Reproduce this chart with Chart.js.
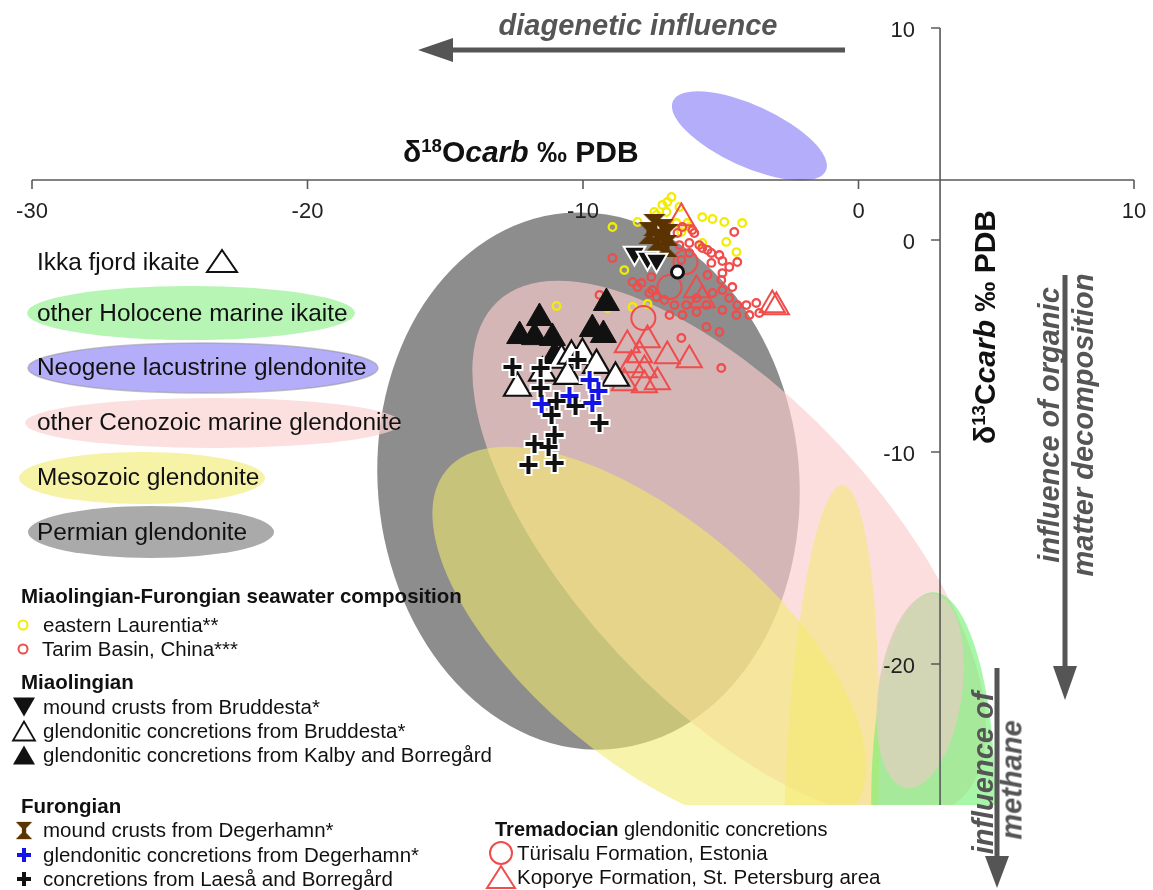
<!DOCTYPE html>
<html>
<head>
<meta charset="utf-8">
<script src="https://cdn.jsdelivr.net/npm/chart.js@4.4.1/dist/chart.umd.min.js"></script>
<style>
body { margin: 0; background: #fff; }
#wrap { position: relative; width: 1153px; height: 890px; overflow: hidden; font-family: "Liberation Sans", Arial, sans-serif; color: #111; }
#wrap canvas { position: absolute; left: 0; top: 0; }
.t { position: absolute; white-space: nowrap; transform: translateY(-50%); line-height: 1; }
.note { font-weight: bold; font-style: italic; color: #555; font-size: 29px; }
.rot { transform: translate(-50%, -50%) rotate(-90deg); }
.big { font-size: 24.4px; }
.sm { font-size: 20.5px; }
.b { font-weight: bold; }
.ttl { font-weight: bold; font-size: 30px; }
.sup { font-size: 0.62em; position: relative; top: -0.55em; }
</style>
</head>
<body>
<div id="wrap">
  <canvas id="c" width="1153" height="890"></canvas>

  <div class="t note" style="left:638px; top:25px; transform:translate(-50%,-50%);">diagenetic influence</div>
  <div class="t ttl" style="left:403px; top:152px;">δ<span class="sup">18</span>O<i>carb</i> ‰ PDB</div>
  <div class="t ttl rot" style="left:985px; top:327px;">δ<span class="sup">13</span>C<i>carb</i> ‰ PDB</div>
  <div class="t note rot" style="left:1049px; top:425px;">influence of organic</div>
  <div class="t note rot" style="left:1083px; top:425px;">matter decomposition</div>
  <div class="t note rot" style="left:983px; top:773px;">influence of</div>
  <div class="t note rot" style="left:1012px; top:780px;">methane</div>

  <div class="t big" style="left:37px; top:262px;">Ikka fjord ikaite</div>
  <div class="t big" style="left:37px; top:313px;">other Holocene marine ikaite</div>
  <div class="t big" style="left:37px; top:367px;">Neogene lacustrine glendonite</div>
  <div class="t big" style="left:37px; top:422px;">other Cenozoic marine glendonite</div>
  <div class="t big" style="left:37px; top:477px;">Mesozoic glendonite</div>
  <div class="t big" style="left:37px; top:532px;">Permian glendonite</div>

  <div class="t sm b" style="left:21px; top:596px;">Miaolingian-Furongian seawater composition</div>
  <div class="t sm" style="left:43px; top:625px;">eastern Laurentia**</div>
  <div class="t sm" style="left:42px; top:649px;">Tarim Basin, China***</div>
  <div class="t sm b" style="left:21px; top:682px;">Miaolingian</div>
  <div class="t sm" style="left:43px; top:707px;">mound crusts from Bruddesta*</div>
  <div class="t sm" style="left:43px; top:731px;">glendonitic concretions from Bruddesta*</div>
  <div class="t sm" style="left:43px; top:755px;">glendonitic concretions from Kalby and Borregård</div>
  <div class="t sm b" style="left:21px; top:806px;">Furongian</div>
  <div class="t sm" style="left:43px; top:830px;">mound crusts from Degerhamn*</div>
  <div class="t sm" style="left:43px; top:855px;">glendonitic concretions from Degerhamn*</div>
  <div class="t sm" style="left:43px; top:879px;">concretions from Laeså and Borregård</div>
  <div class="t sm" style="left:495px; top:829px; font-size:20px;"><b>Tremadocian</b> glendonitic concretions</div>
  <div class="t sm" style="left:517px; top:853px;">Türisalu Formation, Estonia</div>
  <div class="t sm" style="left:517px; top:877px;">Koporye Formation, St. Petersburg area</div>
</div>

<script>
// axis ticks
const xTicks = [-30, -20, -10, 0, 10];
const yTicks = [10, 0, -10, -20];
const xAxisAtY = 2.83;   // the d18O axis crosses d13C here
const yAxisAtX = 2.96;   // the d13C axis crosses d18O here

// envelopes of published fields: [centre x, centre y, half-axis x, half-axis y, tilt deg]
const permianField   = [-9.80, -11.37, 7.65, 12.69, -5];
const neogeneField   = [-3.96, 4.91, 3.05, 1.45, 24.5];
const cenozoicField  = [-4.69, -14.62, 12.33, 7.17, 47];
const mesozoicField  = [-7.59, -18.87, 9.61, 5.66, 40];
const mesozoicField2 = [-0.99, -26.89, 1.70, 15.33, 2];
const holoceneField  = [2.71, -26.42, 2.25, 9.81, 0];
const permianField2  = [2.24, -21.27, 1.52, 4.62, 8];

// Miaolingian-Furongian seawater
const laurentia = [[-6.79,2.03],[-7.12,1.65],[-6.50,1.56],[-6.97,1.32],[-8.02,0.85],[-8.93,0.61],[-5.67,1.08],
  [-5.30,0.99],[-4.87,0.85],[-4.22,0.80],[-4.80,-0.09],[-4.43,-0.57],[-5.67,-0.14],[-8.50,-1.42],[-6.61,0.80],
  [-6.14,0.61],[-6.43,0.38],[-8.20,-3.16],[-7.66,-3.02],[-10.96,-3.11],[-9.11,-3.21],[-7.33,1.18],[-6.21,0.80],
  [-7.41,1.32],[-6.94,1.79]];
const tarim = [[-4.51,0.38],[-5.67,-0.38],[-5.48,-0.47],[-5.34,-0.61],[-5.05,-0.71],[-4.94,-0.99],[-4.40,-1.04],
  [-4.69,-1.27],[-4.94,-1.56],[-5.34,-1.08],[-5.48,-1.65],[-4.98,-1.89],[-4.58,-2.22],[-4.94,-2.36],[-5.30,-2.50],
  [-4.69,-2.74],[-4.40,-3.07],[-4.07,-3.07],[-3.96,-3.54],[-4.43,-3.54],[-4.94,-3.30],[-5.52,-3.07],[-5.88,-2.74],
  [-6.25,-3.07],[-6.68,-3.07],[-7.04,-2.83],[-7.33,-2.69],[-7.59,-2.50],[-8.02,-2.22],[-8.20,-1.98],[-7.88,-2.03],
  [-8.93,-0.85],[-9.40,-2.59],[-6.86,-3.54],[-6.39,-3.54],[-5.88,-3.40],[-5.52,-4.10],[-5.05,-4.34],[-6.43,-0.94],
  [-6.14,-0.61],[-5.78,-0.24],[-6.14,-0.14],[-6.57,0.33],[-6.39,0.61],[-6.03,0.47],[-4.98,-6.04],[-6.43,-4.62],
  [-3.71,-2.97],[-3.60,-3.44],[-7.52,-1.75],[-6.50,-0.24],[-5.96,0.33],[-7.48,-2.36]];

// Miaolingian
const bruddestaMound = [[-8.13,-0.61],[-7.66,-0.85],[-7.33,-0.94]];
const bruddestaConc = [[-12.38,-6.98],[-11.47,-6.27],[-10.78,-5.66],[-10.42,-5.47],[-10.02,-5.38],[-9.51,-5.90],
  [-8.82,-6.51],[-10.56,-6.42]];
const kalbyConc = [[-11.58,-3.68],[-12.30,-4.53],[-11.76,-4.58],[-11.11,-4.62],[-9.66,-4.20],[-9.26,-4.48],
  [-9.15,-2.97],[-11.03,-5.47]];

// Furongian
const degerhamnMound = [[-7.41,0.71],[-7.12,0.47],[-7.30,0.00],[-6.97,-0.28],[-7.59,0.33],[-6.94,0.24]];
const degerhamnConc = [[-9.76,-6.60],[-9.44,-7.12],[-10.49,-7.36],[-11.50,-7.74],[-9.66,-7.69]];
const laesaConc = [[-12.56,-5.99],[-11.54,-6.04],[-10.20,-5.66],[-11.54,-6.98],[-10.96,-7.59],[-10.27,-7.83],
  [-9.40,-8.63],[-11.03,-9.20],[-11.76,-9.62],[-11.25,-9.76],[-11.98,-10.61],[-11.03,-10.52],[-11.14,-8.25]];

// Tremadocian
const turisalu = [[-6.86,-2.22],[-7.81,-3.68],[-6.28,-1.04]];
const koporye = [[-6.43,1.04],[-5.88,-2.36],[-5.67,-2.83],[-3.13,-3.07],[-2.98,-3.16],[-8.39,-4.95],[-7.95,-5.42],
  [-7.66,-4.72],[-6.94,-5.47],[-6.14,-5.66],[-8.24,-5.90],[-7.77,-6.13],[-7.30,-6.70],[-8.50,-6.75],[-7.77,-6.84]];
const ringPoint = [[-6.57,-1.51]];

const RED = '#ef4c4c';
const YEL = '#f2ec00';
const BROWN = '#5b3300';
const BLUE = '#1414e6';
const AX = '#5a5a5a';

function pts(arr) { return arr.map(p => ({x: p[0], y: p[1]})); }

// brown hourglass marker
const hourglass = document.createElement('canvas');
hourglass.width = 24; hourglass.height = 24;
(function () {
    let g = hourglass.getContext('2d');
    g.fillStyle = BROWN;
    g.beginPath(); g.moveTo(1, 1); g.lineTo(23, 1); g.lineTo(12, 12); g.closePath(); g.fill();
    g.beginPath(); g.moveTo(1, 23); g.lineTo(23, 23); g.lineTo(12, 12); g.closePath(); g.fill();
    g.fillRect(9, 7, 6, 10);
})();

function ds(data, o) {
    return Object.assign({
        data: pts(data), pointStyle: 'circle', pointRadius: 4, pointHoverRadius: 4,
        pointBackgroundColor: 'rgba(0,0,0,0)', pointBorderColor: '#000', pointBorderWidth: 2,
        pointRotation: 0, order: 5
    }, o);
}

function drawEllipse(ctx, cx, cy, rx, ry, ang, fill, stroke) {
    ctx.save();
    ctx.beginPath();
    ctx.ellipse(cx, cy, rx, ry, ang * Math.PI / 180, 0, Math.PI * 2);
    ctx.fillStyle = fill;
    ctx.fill();
    if (stroke) { ctx.strokeStyle = stroke; ctx.lineWidth = 1.5; ctx.stroke(); }
    ctx.restore();
}

function tri(ctx, x, y, w, h, down, fill, stroke, lw) {
    ctx.save();
    ctx.beginPath();
    if (down) { ctx.moveTo(x - w / 2, y - h / 2); ctx.lineTo(x + w / 2, y - h / 2); ctx.lineTo(x, y + h / 2); }
    else { ctx.moveTo(x - w / 2, y + h / 2); ctx.lineTo(x + w / 2, y + h / 2); ctx.lineTo(x, y - h / 2); }
    ctx.closePath();
    if (fill) { ctx.fillStyle = fill; ctx.fill(); }
    if (stroke) { ctx.strokeStyle = stroke; ctx.lineWidth = lw; ctx.stroke(); }
    ctx.restore();
}

function ring(ctx, x, y, r, color, lw) {
    ctx.save();
    ctx.beginPath(); ctx.arc(x, y, r, 0, Math.PI * 2);
    ctx.strokeStyle = color; ctx.lineWidth = lw; ctx.stroke();
    ctx.restore();
}

function plus(ctx, x, y, s, color, lw) {
    ctx.save();
    ctx.strokeStyle = color; ctx.lineWidth = lw;
    ctx.beginPath();
    ctx.moveTo(x - s, y); ctx.lineTo(x + s, y);
    ctx.moveTo(x, y - s); ctx.lineTo(x, y + s);
    ctx.stroke();
    ctx.restore();
}

function arrow(ctx, x1, y1, x2, y2, len, half) {
    let a = Math.atan2(y2 - y1, x2 - x1);
    let bx = x2 - Math.cos(a) * len, by = y2 - Math.sin(a) * len;
    ctx.save();
    ctx.strokeStyle = '#555'; ctx.fillStyle = '#555'; ctx.lineWidth = 5;
    ctx.beginPath(); ctx.moveTo(x1, y1); ctx.lineTo(bx, by); ctx.stroke();
    ctx.beginPath();
    ctx.moveTo(x2, y2);
    ctx.lineTo(bx + Math.sin(a) * half, by - Math.cos(a) * half);
    ctx.lineTo(bx - Math.sin(a) * half, by + Math.cos(a) * half);
    ctx.closePath(); ctx.fill();
    ctx.restore();
}

const fields = [
    [permianField, '#8d8d8d'],
    [neogeneField, '#b4aefa'],
    [cenozoicField, 'rgba(251,204,204,0.65)'],
    [mesozoicField, 'rgba(243,234,108,0.58)'],
    [mesozoicField2, 'rgba(243,234,108,0.52)'],
    [holoceneField, 'rgba(110,240,110,0.6)'],
    [permianField2, 'rgba(214,212,182,0.92)']
];

const backdrop = {
    id: 'backdrop',
    beforeDatasetsDraw(chart) {
        const {ctx, chartArea: a, scales: {x, y}} = chart;
        ctx.save();
        ctx.beginPath(); ctx.rect(a.left, a.top, a.right - a.left, a.bottom - a.top); ctx.clip();
        fields.forEach(f => {
            let e = f[0];
            let cx = x.getPixelForValue(e[0]), cy = y.getPixelForValue(e[1]);
            let rx = Math.abs(x.getPixelForValue(e[0] + e[2]) - cx);
            let ry = Math.abs(y.getPixelForValue(e[1] + e[3]) - cy);
            drawEllipse(ctx, cx, cy, rx, ry, e[4], f[1]);
        });
        ctx.restore();

        // legend ovals
        drawEllipse(ctx, 191, 313, 164, 27, 0, '#b6f5b4');
        drawEllipse(ctx, 203, 368, 175, 25, 0, '#b4aefa', 'rgba(150,150,160,0.6)');
        drawEllipse(ctx, 213, 423, 188, 25, 0, 'rgba(251,210,210,0.7)');
        drawEllipse(ctx, 142, 478, 123, 26, 0, '#f6f2a6');
        drawEllipse(ctx, 151, 532, 123, 26, 0, '#aaaaaa');

        // axes
        let x0 = x.getPixelForValue(yAxisAtX);
        let y0 = y.getPixelForValue(xAxisAtY);
        ctx.save();
        ctx.strokeStyle = AX; ctx.lineWidth = 1.6;
        ctx.beginPath();
        ctx.moveTo(x.getPixelForValue(xTicks[0]), y0);
        ctx.lineTo(x.getPixelForValue(xTicks[xTicks.length - 1]), y0);
        xTicks.forEach(v => { let p = x.getPixelForValue(v); ctx.moveTo(p, y0); ctx.lineTo(p, y0 + 9); });
        ctx.moveTo(x0, y.getPixelForValue(yTicks[0]));
        ctx.lineTo(x0, a.bottom);
        yTicks.forEach(v => { let p = y.getPixelForValue(v); ctx.moveTo(x0, p); ctx.lineTo(x0 - 9, p); });
        ctx.stroke();
        ctx.fillStyle = '#222';
        ctx.font = '22px "Liberation Sans", Arial, sans-serif';
        ctx.textBaseline = 'middle';
        ctx.textAlign = 'center';
        xTicks.forEach(v => ctx.fillText(String(v), x.getPixelForValue(v), y0 + 32));
        ctx.textAlign = 'right';
        yTicks.forEach(v => ctx.fillText(String(v), x0 - 25, y.getPixelForValue(v) + 3));
        ctx.restore();
    },
    afterDraw(chart) {
        const ctx = chart.ctx;
        arrow(ctx, 845, 50, 418, 50, 35, 12);
        arrow(ctx, 1065, 275, 1065, 700, 34, 12);
        arrow(ctx, 997, 668, 997, 888, 32, 12);

        tri(ctx, 222, 261, 30, 22, false, null, '#111', 2);
        ring(ctx, 23, 625, 4.5, YEL, 2);
        ring(ctx, 23, 649, 4.5, RED, 2);
        tri(ctx, 24, 707, 22, 19, true, '#111');
        tri(ctx, 24, 731, 22, 19, false, '#fff', '#111', 1.8);
        tri(ctx, 24, 755, 22, 19, false, '#111');
        ctx.drawImage(hourglass, 15, 821, 18, 19);
        plus(ctx, 24, 855, 7, BLUE, 4);
        plus(ctx, 24, 879, 7, '#111', 4);
        ring(ctx, 501, 853, 11, RED, 2);
        tri(ctx, 501, 877, 28, 22, false, null, RED, 2);
    }
};

new Chart(document.getElementById('c'), {
    type: 'scatter',
    data: {
        datasets: [
            ds(laurentia, {pointBorderColor: YEL, pointRadius: 3.8, pointBorderWidth: 2.3, order: 12}),
            ds(tarim, {pointBorderColor: RED, pointRadius: 3.8, pointBorderWidth: 2.3, order: 11}),
            ds(koporye, {pointStyle: 'triangle', pointRadius: 14.5, pointBorderColor: RED, order: 10}),
            ds(turisalu, {pointRadius: 12, pointBorderColor: RED, order: 9}),
            ds(kalbyConc, {pointStyle: 'triangle', pointRadius: 15, pointBackgroundColor: '#111', pointBorderColor: '#111', pointBorderWidth: 1, order: 8}),
            ds(bruddestaConc, {pointStyle: 'triangle', pointRadius: 15.5, pointBackgroundColor: '#fff', pointBorderColor: '#111', pointBorderWidth: 2.2, order: 7}),
            ds(laesaConc, {pointStyle: 'cross', pointRadius: 11, pointBorderColor: '#fff', pointBorderWidth: 8, order: 6}),
            ds(degerhamnConc, {pointStyle: 'cross', pointRadius: 11, pointBorderColor: '#fff', pointBorderWidth: 8, order: 6}),
            ds(laesaConc, {pointStyle: 'cross', pointRadius: 9, pointBorderColor: '#111', pointBorderWidth: 4, order: 4}),
            ds(degerhamnConc, {pointStyle: 'cross', pointRadius: 9, pointBorderColor: BLUE, pointBorderWidth: 4, order: 4}),
            ds(degerhamnMound, {pointStyle: hourglass, order: 3}),
            ds(bruddestaMound, {pointStyle: 'triangle', pointRotation: 180, pointRadius: 12.5, pointBackgroundColor: '#111', pointBorderColor: '#fff', pointBorderWidth: 2, order: 2}),
            ds(ringPoint, {pointRadius: 6, pointBackgroundColor: '#fff', pointBorderColor: '#111', pointBorderWidth: 3, order: 1})
        ]
    },
    options: {
        responsive: false,
        animation: false,
        events: [],
        layout: {padding: {left: 32, right: 18, top: 28, bottom: 85}},
        scales: {
            x: {type: 'linear', min: -30, max: 10, display: false},
            y: {type: 'linear', min: -26.65, max: 10, display: false}
        },
        plugins: {legend: {display: false}, tooltip: {enabled: false}}
    },
    plugins: [backdrop]
});
</script>
</body>
</html>
